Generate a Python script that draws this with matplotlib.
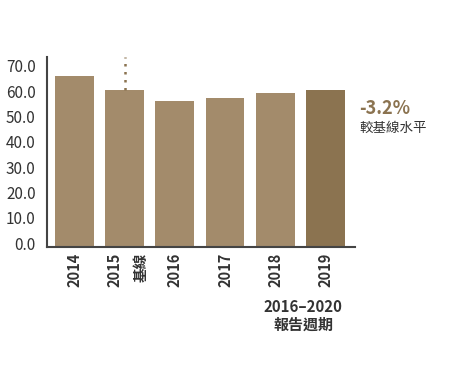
import numpy as np
import matplotlib.pyplot as plt
from matplotlib.transforms import ScaledTranslation

plt.rcParams['font.family'] = ['Noto Sans CJK TC', 'DejaVu Sans']

years = ["2014", "2015\n基線", "2016", "2017", "2018", "2019"]
values = [67.3, 62.1, 57.8, 58.9, 60.9, 62.1]
yticks = [0, 10, 20, 30, 40, 50, 60, 70]
change_label = "-3.2%"
change_note = "較基線水平"
period_label = "2016–2020\n報告週期"

tan = "#a38b6b"
dark_tan = "#8b7350"
text_col = "#333333"


def main():
    fig = plt.figure(figsize=(4.49, 3.90), dpi=100)
    ax = fig.add_axes([0.104, 0.366, 0.687, 0.488])

    x = np.arange(len(values))
    colors = [tan] * (len(values) - 1) + [dark_tan]
    ax.bar(x, values, width=0.77, color=colors)

    # baseline marker above 2015
    ax.plot([1, 1], [values[1], 75], linestyle=(0, (1, 2.2)), color=dark_tan, lw=1.8)

    ax.set_xlim(-0.55, 5.59)
    ax.set_ylim(0, 75)
    ax.set_yticks(yticks)
    ax.set_yticklabels([f"{v:.1f}" for v in yticks], fontsize=11, color=text_col)
    ax.set_xticks(x)
    ax.set_xticklabels(years, rotation=90, fontsize=10.5, fontweight='bold',
                       color=text_col, va='top', ha='center', multialignment='right',
                       linespacing=1.8)
    ax.tick_params(axis='both', length=0)
    ax.tick_params(axis='y', pad=8)
    ax.tick_params(axis='x', pad=4)
    shift = ScaledTranslation(0, 4 / 100, fig.dpi_scale_trans)
    for lbl in ax.get_yticklabels():
        lbl.set_transform(lbl.get_transform() + shift)
    # nudge the two-line 2015 label so its block sits under the bar
    nudge = ScaledTranslation(3 / 100, 0, fig.dpi_scale_trans)
    lbl15 = ax.get_xticklabels()[1]
    lbl15.set_transform(lbl15.get_transform() + nudge)

    for side in ['top', 'right']:
        ax.spines[side].set_visible(False)
    for side in ['left', 'bottom']:
        ax.spines[side].set_color("#444444")
        ax.spines[side].set_linewidth(1.5)

    fig.text(359 / 449, 1 - 108 / 390, change_label, fontsize=13, fontweight='bold',
             color=dark_tan, ha='left', va='center')
    fig.text(359 / 449, 1 - 128 / 390, change_note, fontsize=9.7,
             color=text_col, ha='left', va='center')
    fig.text(303 / 449, 1 - 316 / 390, period_label, fontsize=10.8, fontweight='bold',
             color=text_col, ha='center', va='center', linespacing=1.15)

    fig.savefig("out.png", dpi=100)


if __name__ == "__main__":
    main()
